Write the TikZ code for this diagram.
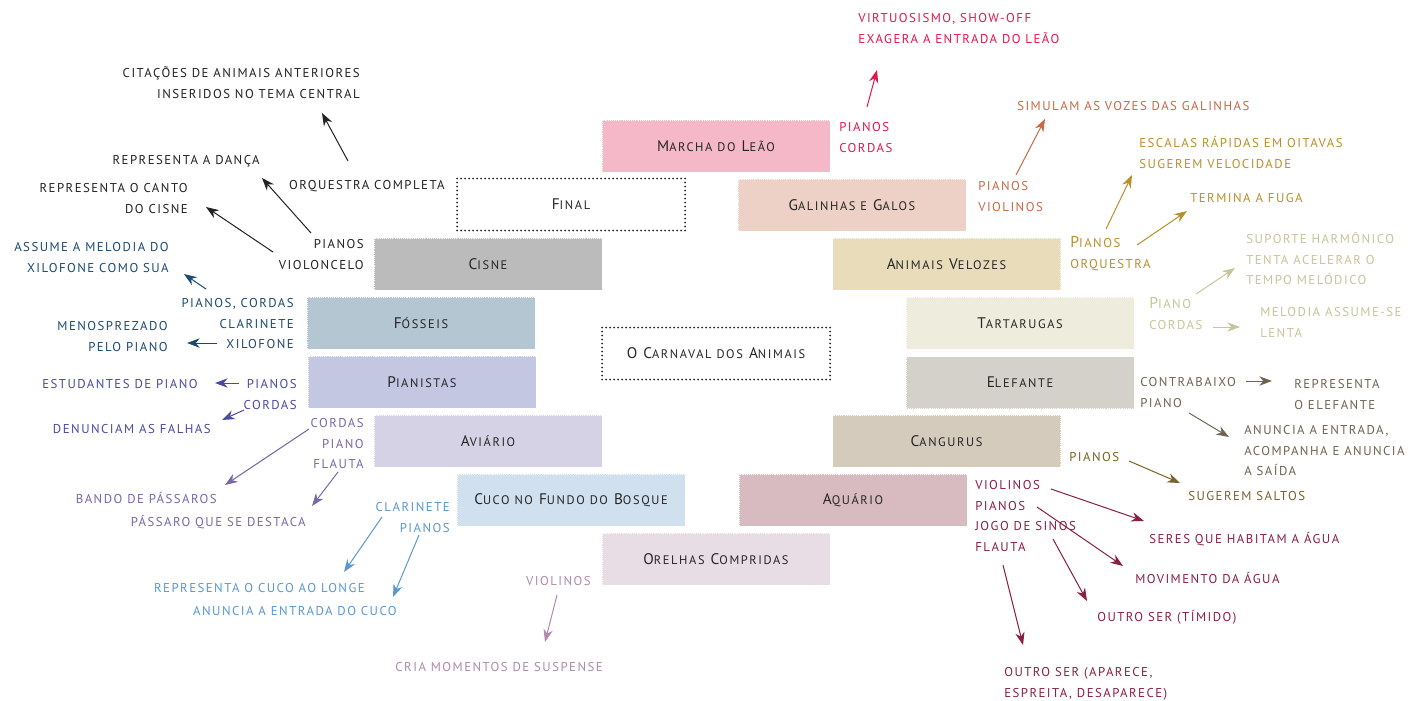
\documentclass[tikz,border=0pt]{standalone}
\usepackage{fontspec}
\usetikzlibrary{arrows.meta}
\newfontfamily\lblfont[LetterSpace=11.5]{PT Sans}
\newfontfamily\ttlfont[LetterSpace=13]{PT Sans}
% hand-made small capitals
\newcommand\smc[1]{{\fontsize{9.3}{10}\selectfont #1}}
\newcommand\capl[1]{{\fontsize{11.8}{15}\selectfont #1}}

\definecolor{boxtext}{HTML}{262626}
\definecolor{cBlack}{HTML}{222222}
\definecolor{cLeao}{HTML}{E3174A}
\definecolor{cGal}{HTML}{C86848}
\definecolor{cVel}{HTML}{B8902A}
\definecolor{cTart}{HTML}{C8C49A}
\definecolor{cEle}{HTML}{6E6450}
\definecolor{cCang}{HTML}{7A6228}
\definecolor{cAqua}{HTML}{8A2040}
\definecolor{cOre}{HTML}{B08AAA}
\definecolor{cCuco}{HTML}{5A98D0}
\definecolor{cAvi}{HTML}{7868A8}
\definecolor{cPian}{HTML}{4A4AA0}
\definecolor{cFos}{HTML}{1A4A70}

\definecolor{fLeao}{HTML}{F4B8C8}
\definecolor{fGal}{HTML}{EDD0C6}
\definecolor{fVel}{HTML}{E8DCBA}
\definecolor{fTart}{HTML}{EEECDC}
\definecolor{fEle}{HTML}{D4D0CA}
\definecolor{fCang}{HTML}{D4CBBD}
\definecolor{fAqua}{HTML}{D8BBC0}
\definecolor{fOre}{HTML}{E8DCE5}
\definecolor{fCuco}{HTML}{D0E0EF}
\definecolor{fAvi}{HTML}{D5D2E5}
\definecolor{fPian}{HTML}{C4C7E2}
\definecolor{fFos}{HTML}{B3C6D1}
\definecolor{fCisne}{HTML}{BBBBBB}

\tikzset{
  movbox/.style={fill=#1, draw=white, dash pattern=on 0.8pt off 0.8pt,
    line width=0.7pt, minimum width=171pt, minimum height=39pt,
    inner sep=0pt, text=boxtext, font=\ttlfont\fontsize{11.5}{12}\selectfont},
  dotbox/.style={draw=black!85, line width=1.5pt, dash pattern=on 0pt off 3pt,
    line cap=round, minimum width=171pt, minimum height=39pt,
    inner sep=0pt, text=boxtext, font=\ttlfont\fontsize{11.5}{12}\selectfont},
  lblL/.style={anchor=base east, align=right, inner sep=0pt, text=#1,
    font=\lblfont\fontsize{9.6}{15.375}\selectfont},
  lblR/.style={anchor=base west, align=left, inner sep=0pt, text=#1,
    font=\lblfont\fontsize{9.6}{15.375}\selectfont},
  arr/.style={draw=#1, line width=0.75pt,
    -{Stealth[length=9.5pt,width=7pt,inset=3pt]}},
}

\begin{document}
\begin{tikzpicture}[x=0.75pt, y=-0.75pt]
\fill[white] (0,0) rectangle (1412,700);
\useasboundingbox (0,0) rectangle (1412,700);

% movements
\node[movbox=fLeao]  (leao)  at (716,146)   {M\smc{ARCHA DO} L\smc{EÃO}};
\node[dotbox]        (final) at (571,204.5) {F\smc{INAL}};
\node[movbox=fGal]   (gal)   at (852,205)   {G\smc{ALINHAS E} G\smc{ALOS}};
\node[movbox=fCisne] (cisne) at (488,264)   {C\smc{ISNE}};
\node[movbox=fVel]   (vel)   at (946.5,264) {A\smc{NIMAIS} V\smc{ELOZES}};
\node[movbox=fFos]   (fos)   at (421,323)   {F\smc{ÓSSEIS}};
\node[movbox=fTart]  (tart)  at (1020,323)  {T\smc{ARTARUGAS}};
\node[dotbox]        (carn)  at (716,353.5) {O C\smc{ARNAVAL DOS} A\smc{NIMAIS}};
\node[movbox=fPian]  (pian)  at (422,382)   {P\smc{IANISTAS}};
\node[movbox=fEle]   (ele)   at (1020,382.5){E\smc{LEFANTE}};
\node[movbox=fAvi]   (avi)   at (488,441)   {A\smc{VIÁRIO}};
\node[movbox=fCang]  (cang)  at (946.5,441) {C\smc{ANGURUS}};
\node[movbox=fCuco]  (cuco)  at (571,500)   {C\smc{UCO NO} F\smc{UNDO DO} B\smc{OSQUE}};
\node[movbox=fAqua]  (aqua)  at (853,500)   {A\smc{QUÁRIO}};
\node[movbox=fOre]   (ore)   at (716,559)   {O\smc{RELHAS} C\smc{OMPRIDAS}};

% left-hand labels (placed at the baseline of their last line)
\node[lblL=cBlack] (cit)   at (360,98)    {CITAÇÕES DE ANIMAIS ANTERIORES\\INSERIDOS NO TEMA CENTRAL};
\node[lblL=cBlack] (orq)   at (445,189.5) {ORQUESTRA COMPLETA};
\node[lblL=cBlack] (danca) at (260,164.5) {REPRESENTA A DANÇA};
\node[lblL=cBlack] (canto) at (188,213)   {REPRESENTA O CANTO\\DO CISNE};
\node[lblL=cBlack] (cisI)  at (364,269)   {PIANOS\\VIOLONCELO};
\node[lblL=cFos]   (xilo)  at (169,272)   {ASSUME A MELODIA DO\\XILOFONE COMO SUA};
\node[lblL=cFos]   (fosI)  at (294,348.5) {PIANOS, CORDAS\\CLARINETE\\XILOFONE};
\node[lblL=cFos]   (menos) at (168,351)   {MENOSPREZADO\\PELO PIANO};
\node[lblL=cPian]  (pianI) at (297,409)   {PIANOS\\CORDAS};
\node[lblL=cPian]  (estud) at (198,388.5) {ESTUDANTES DE PIANO};
\node[lblL=cPian]  (denun) at (211,433.5) {DENUNCIAM AS FALHAS};
\node[lblL=cAvi]   (aviI)  at (364,468.5) {CORDAS\\PIANO\\FLAUTA};
\node[lblL=cAvi]   (bando) at (217,503.5) {BANDO DE PÁSSAROS};
\node[lblL=cAvi]   (passa) at (306,526.5) {PÁSSARO QUE SE DESTACA};
\node[lblL=cCuco]  (cucoI) at (450,532)   {CLARINETE\\PIANOS};
\node[lblL=cCuco]  (repcu) at (365,592.5) {REPRESENTA O CUCO AO LONGE};
\node[lblL=cCuco]  (anucu) at (397,615.5) {ANUNCIA A ENTRADA DO CUCO};
\node[lblL=cOre]   (oreI)  at (591,585.5) {VIOLINOS};
\node[lblL=cOre]   (susp)  at (603,671.5) {CRIA MOMENTOS DE SUSPENSE};

% right-hand labels (placed at the baseline of their last line)
\node[lblR=cLeao] (virt)  at (858,43)     {VIRTUOSISMO, SHOW-OFF\\EXAGERA A ENTRADA DO LEÃO};
\node[lblR=cLeao] (leaoI) at (839,152)    {PIANOS\\CORDAS};
\node[lblR=cGal]  (simul) at (1017,110.5) {SIMULAM AS VOZES DAS GALINHAS};
\node[lblR=cGal]  (galI)  at (978,211)    {PIANOS\\VIOLINOS};
\node[lblR=cVel]  (escal) at (1139,168)   {ESCALAS RÁPIDAS EM OITAVAS\\SUGEREM VELOCIDADE};
\node[lblR=cVel]  (fuga)  at (1190,202.5) {TERMINA A FUGA};
\node[lblR=cVel]  (velI)  at (1070,268)   {\capl{P}IANOS\\ORQUESTRA};
\node[lblR=cTart] (supor) at (1246,284.5) {SUPORTE HARMÔNICO\\TENTA ACELERAR O\\TEMPO MELÓDICO};
\node[lblR=cTart] (tartI) at (1149,329)   {\capl{P}IANO\\CORDAS};
\node[lblR=cTart] (melod) at (1260,337)   {MELODIA ASSUME-SE\\LENTA};
\node[lblR=cEle]  (eleI)  at (1140,407)   {CONTRABAIXO\\PIANO};
\node[lblR=cEle]  (repel) at (1294,409)   {REPRESENTA\\O ELEFANTE};
\node[lblR=cEle]  (anunc) at (1244,475.5) {ANUNCIA A ENTRADA,\\ACOMPANHA E ANUNCIA\\A SAÍDA};
\node[lblR=cCang] (cangI) at (1069,461.5) {PIANOS};
\node[lblR=cCang] (salto) at (1188,500.5) {SUGEREM SALTOS};
\node[lblR=cAqua] (aquaI) at (975,551)    {VIOLINOS\\PIANOS\\JOGO DE SINOS\\FLAUTA};
\node[lblR=cAqua] (seres) at (1149,543.5) {SERES QUE HABITAM A ÁGUA};
\node[lblR=cAqua] (movim) at (1135,583.5) {MOVIMENTO DA ÁGUA};
\node[lblR=cAqua] (timid) at (1097,621.5) {OUTRO SER (TÍMIDO)};
\node[lblR=cAqua] (apare) at (1004,697)   {OUTRO SER (APARECE,\\ESPREITA, DESAPARECE)};

% arrow end points
\coordinate (aLeaoS) at (867,107);  \coordinate (aLeaoE) at (877,70);
\coordinate (aGalS)  at (1016,175); \coordinate (aGalE)  at (1045,119);
\coordinate (aVel1S) at (1106,229); \coordinate (aVel1E) at (1132,175);
\coordinate (aVel2S) at (1137,245); \coordinate (aVel2E) at (1187,211);
\coordinate (aTa1S)  at (1196,294); \coordinate (aTa1E)  at (1235,268);
\coordinate (aTa2S)  at (1213,327); \coordinate (aTa2E)  at (1240,327);
\coordinate (aEl1S)  at (1246,381); \coordinate (aEl1E)  at (1272,381);
\coordinate (aEl2S)  at (1189,413); \coordinate (aEl2E)  at (1229,437);
\coordinate (aCaS)   at (1129,461); \coordinate (aCaE)   at (1180,483);
\coordinate (aAq1S)  at (1051,489); \coordinate (aAq1E)  at (1144,521);
\coordinate (aAq2S)  at (1037,507); \coordinate (aAq2E)  at (1123,566);
\coordinate (aAq3S)  at (1053,539); \coordinate (aAq3E)  at (1087,601);
\coordinate (aAq4S)  at (1003,565); \coordinate (aAq4E)  at (1023,645);
\coordinate (aOrS)   at (557,595);  \coordinate (aOrE)   at (545,642);
\coordinate (aCu1S)  at (382,517);  \coordinate (aCu1E)  at (344,572);
\coordinate (aCu2S)  at (419,535);  \coordinate (aCu2E)  at (393,597);
\coordinate (aAv1S)  at (309,429);  \coordinate (aAv1E)  at (225,485);
\coordinate (aAv2S)  at (338,472);  \coordinate (aAv2E)  at (312,506);
\coordinate (aPi1S)  at (239,383);  \coordinate (aPi1E)  at (215,383);
\coordinate (aPi2S)  at (244,410);  \coordinate (aPi2E)  at (222,420);
\coordinate (aFo1S)  at (217,343);  \coordinate (aFo1E)  at (187,343);
\coordinate (aFo2S)  at (206,289);  \coordinate (aFo2E)  at (184,274);
\coordinate (aCi1S)  at (273,252);  \coordinate (aCi1E)  at (206,207);
\coordinate (aCi2S)  at (311,233);  \coordinate (aCi2E)  at (262,178);
\coordinate (aFiS)   at (348,161);  \coordinate (aFiE)   at (322,113);

% arrows
\draw[arr=cLeao] (aLeaoS) -- (aLeaoE);
\draw[arr=cGal]  (aGalS)  -- (aGalE);
\draw[arr=cVel]  (aVel1S) -- (aVel1E);
\draw[arr=cVel]  (aVel2S) -- (aVel2E);
\draw[arr=cTart] (aTa1S)  -- (aTa1E);
\draw[arr=cTart] (aTa2S)  -- (aTa2E);
\draw[arr=cEle]  (aEl1S)  -- (aEl1E);
\draw[arr=cEle]  (aEl2S)  -- (aEl2E);
\draw[arr=cCang] (aCaS)   -- (aCaE);
\draw[arr=cAqua] (aAq1S)  -- (aAq1E);
\draw[arr=cAqua] (aAq2S)  -- (aAq2E);
\draw[arr=cAqua] (aAq3S)  -- (aAq3E);
\draw[arr=cAqua] (aAq4S)  -- (aAq4E);
\draw[arr=cOre]  (aOrS)   -- (aOrE);
\draw[arr=cCuco] (aCu1S)  -- (aCu1E);
\draw[arr=cCuco] (aCu2S)  -- (aCu2E);
\draw[arr=cAvi]  (aAv1S)  -- (aAv1E);
\draw[arr=cAvi]  (aAv2S)  -- (aAv2E);
\draw[arr=cPian] (aPi1S)  -- (aPi1E);
\draw[arr=cPian] (aPi2S)  -- (aPi2E);
\draw[arr=cFos]  (aFo1S)  -- (aFo1E);
\draw[arr=cFos]  (aFo2S)  -- (aFo2E);
\draw[arr=cBlack] (aCi1S) -- (aCi1E);
\draw[arr=cBlack] (aCi2S) -- (aCi2E);
\draw[arr=cBlack] (aFiS)  -- (aFiE);
\end{tikzpicture}
\end{document}
